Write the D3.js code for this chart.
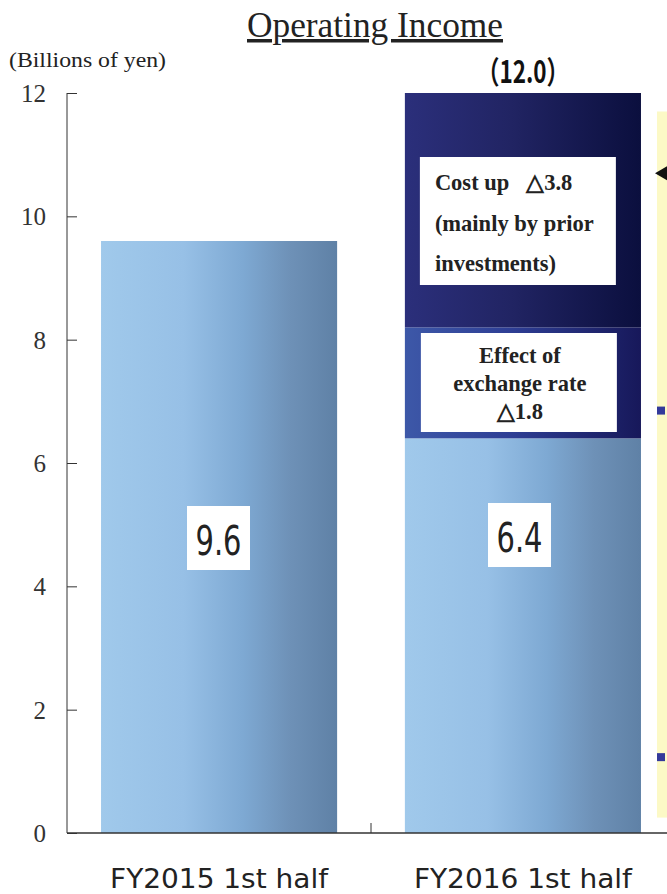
<!DOCTYPE html>
<html>
<head>
<meta charset="utf-8">
<script src="https://cdn.jsdelivr.net/npm/d3@7"></script>
<style>
  body { margin: 0; background: #fff; }
  svg { display: block; }
  text { white-space: pre; }
</style>
</head>
<body>
<svg width="667" height="894"></svg>
<script>
var svg = d3.select("svg"),
    width = +svg.attr("width"),
    height = +svg.attr("height");

// data
var categories = ["FY2015 1st half", "FY2016 1st half"];
var baseValues = [9.6, 6.4];
var exchangeEffect = [0, 1.8];
var costUp = [0, 3.8];
var totalLabel = "（12.0）";
var yTicks = [0, 2, 4, 6, 8, 10, 12];
var edgeMarks = [6.85, 1.23];   // markers of the next chart, cut off at the right
var edgeArrow = 10.7;

var serif = "'Liberation Serif', 'Times New Roman', serif";
var sans = "'DejaVu Sans Condensed', 'Liberation Sans', sans-serif";

var y = d3.scaleLinear().domain([0, 12]).range([833, 93]);
var x = d3.scaleBand().domain(categories).range([67, 675]).paddingInner(0.223).paddingOuter(0.112);

var defs = svg.append("defs");
function grad(id, stops) {
    var g = defs.append("linearGradient").attr("id", id)
        .attr("x1", "0%").attr("x2", "100%").attr("y1", "0%").attr("y2", "0%");
    stops.forEach(function (s) {
        g.append("stop").attr("offset", s[0]).attr("stop-color", s[1]);
    });
}
grad("gBase", [["0%", "#a0c9eb"], ["35%", "#97c0e6"], ["60%", "#7ea9d3"], ["80%", "#6e91b7"], ["100%", "#5f81a6"]]);
grad("gFx", [["0%", "#3d58a8"], ["45%", "#2e3e94"], ["100%", "#17185a"]]);
grad("gCost", [["0%", "#2b2f7b"], ["45%", "#212463"], ["100%", "#0b0f3e"]]);

// title
svg.append("text").attr("x", 375).attr("y", 37)
    .attr("text-anchor", "middle")
    .attr("textLength", 256).attr("lengthAdjust", "spacingAndGlyphs")
    .style("font-family", serif).style("font-size", "35px")
    .style("text-decoration", "underline")
    .attr("fill", "#222")
    .text("Operating Income");

svg.append("text").attr("x", 9).attr("y", 67)
    .attr("textLength", 157).attr("lengthAdjust", "spacingAndGlyphs")
    .style("font-family", serif).style("font-size", "21px")
    .attr("fill", "#222")
    .text("(Billions of yen)");

// yellow strip from the next chart
svg.append("rect").attr("x", 657).attr("y", y(11.7)).attr("width", 12)
    .attr("height", y(0.25) - y(11.7)).attr("fill", "#fcf9c6");
svg.selectAll(".mark").data(edgeMarks).enter().append("rect")
    .attr("x", 657).attr("y", function (d) { return y(d) - 4; })
    .attr("width", 8).attr("height", 8).attr("fill", "#33399a");
svg.append("path")
    .attr("d", "M655," + y(edgeArrow) + " L667," + (y(edgeArrow) - 7) + " L667," + (y(edgeArrow) + 7) + "Z")
    .attr("fill", "#111");

// bars
var g = svg.append("g");
g.selectAll(".base").data(categories).enter().append("rect")
    .attr("x", function (d) { return x(d); })
    .attr("width", x.bandwidth())
    .attr("y", function (d, i) { return y(baseValues[i]); })
    .attr("height", function (d, i) { return y(0) - y(baseValues[i]); })
    .attr("fill", "url(#gBase)");

g.selectAll(".fx").data(categories).enter().append("rect")
    .attr("x", function (d) { return x(d); })
    .attr("width", x.bandwidth())
    .attr("y", function (d, i) { return y(baseValues[i] + exchangeEffect[i]); })
    .attr("height", function (d, i) { return y(baseValues[i]) - y(baseValues[i] + exchangeEffect[i]); })
    .attr("fill", "url(#gFx)");

g.selectAll(".cost").data(categories).enter().append("rect")
    .attr("x", function (d) { return x(d); })
    .attr("width", x.bandwidth())
    .attr("y", function (d, i) { return y(baseValues[i] + exchangeEffect[i] + costUp[i]); })
    .attr("height", function (d, i) { return y(baseValues[i] + exchangeEffect[i]) - y(baseValues[i] + exchangeEffect[i] + costUp[i]); })
    .attr("fill", "url(#gCost)");

// value boxes
var valueBoxX = [187, 488];
var valueBoxY = [506, 503];
categories.forEach(function (c, i) {
    svg.append("rect").attr("x", valueBoxX[i]).attr("y", valueBoxY[i])
        .attr("width", 63).attr("height", 64).attr("fill", "#fff");
    svg.append("text").attr("x", valueBoxX[i] + 31.5).attr("y", valueBoxY[i] + 49)
        .attr("text-anchor", "middle")
        .attr("textLength", 46).attr("lengthAdjust", "spacingAndGlyphs")
        .style("font-family", sans).style("font-size", "41px")
        .attr("fill", "#222")
        .text(baseValues[i].toFixed(1));
});

// cost up box
var b2 = x(categories[1]);
svg.append("rect").attr("x", b2 + 15).attr("y", 157).attr("width", 196).attr("height", 128).attr("fill", "#fff");
var costLines = ["Cost up   \u25b3" + costUp[1].toFixed(1), "(mainly by prior", "investments)"];
svg.selectAll(".costt").data(costLines).enter().append("text")
    .attr("x", b2 + 30)
    .attr("y", function (d, i) { return 190 + i * 40.5; })
    .style("font-family", serif).style("font-size", "22.5px").style("font-weight", "bold")
    .attr("fill", "#222")
    .text(function (d) { return d; });

// exchange box
svg.append("rect").attr("x", b2 + 16).attr("y", 333).attr("width", 196).attr("height", 99).attr("fill", "#fff");
var fxLines = ["Effect of", "exchange rate", "\u25b3" + exchangeEffect[1].toFixed(1)];
svg.selectAll(".fxt").data(fxLines).enter().append("text")
    .attr("x", b2 + 115)
    .attr("y", function (d, i) { return 363 + i * 28; })
    .attr("text-anchor", "middle")
    .style("font-family", serif).style("font-size", "22.5px").style("font-weight", "bold")
    .attr("fill", "#222")
    .text(function (d) { return d; });

// total label
svg.append("text").attr("x", 523).attr("y", 83)
    .attr("text-anchor", "middle")
    .attr("textLength", 92).attr("lengthAdjust", "spacingAndGlyphs")
    .style("font-family", "'Noto Sans CJK JP', sans-serif").style("font-size", "31px")
    .style("font-weight", "bold")
    .attr("fill", "#111")
    .text(totalLabel);

// y axis
var yAxis = svg.append("g").attr("transform", "translate(67,0)")
    .call(d3.axisRight(y).tickValues(yTicks).tickSize(10).tickFormat(""));
yAxis.select(".domain").attr("d", "M0," + y(0) + "V" + y(12)).attr("stroke", "#333");
yAxis.selectAll(".tick line").attr("stroke", "#333");
svg.selectAll(".ylab").data(yTicks).enter().append("text")
    .attr("x", 46).attr("y", function (d) { return y(d) + 9; })
    .attr("text-anchor", "end")
    .style("font-family", serif).style("font-size", "25px")
    .attr("fill", "#333")
    .text(function (d) { return d; });

// x axis
svg.append("line").attr("x1", 67).attr("x2", 667).attr("y1", y(0)).attr("y2", y(0))
    .attr("stroke", "#333").attr("stroke-width", 1.5);
svg.append("line").attr("x1", x(categories[1]) - x.step() * x.paddingInner() / 2)
    .attr("x2", x(categories[1]) - x.step() * x.paddingInner() / 2)
    .attr("y1", y(0)).attr("y2", y(0) - 10).attr("stroke", "#333");
svg.selectAll(".xlab").data(categories).enter().append("text")
    .attr("x", function (d) { return x(d) + x.bandwidth() / 2; })
    .attr("y", 888)
    .attr("text-anchor", "middle")
    .attr("textLength", 218).attr("lengthAdjust", "spacingAndGlyphs")
    .style("font-family", sans).style("font-size", "27px")
    .attr("fill", "#222")
    .text(function (d) { return d; });
</script>
</body>
</html>
